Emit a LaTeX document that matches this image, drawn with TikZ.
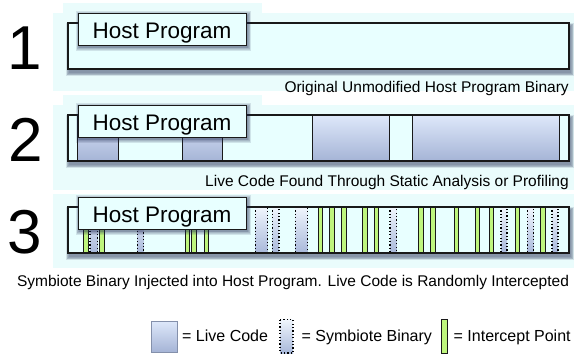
\documentclass[tikz,border=0pt]{standalone}
\usepackage{fontspec}
\setmainfont{Liberation Sans}
\definecolor{boxcyan}{RGB}{232,255,255}
\definecolor{panelcyan}{RGB}{234,252,252}
\definecolor{liveTop}{RGB}{222,232,250}
\definecolor{liveBot}{RGB}{165,180,214}
\definecolor{symTop}{RGB}{240,246,253}
\definecolor{symBot}{RGB}{168,184,218}
\definecolor{icptgreen}{RGB}{190,245,125}
\definecolor{shadowc}{RGB}{30,40,80}
\definecolor{inkc}{RGB}{25,25,25}

% soft drop shadow built from stacked translucent rectangles
\newcommand\dropshadow[5]{%
  \foreach \g in {0,...,4}{%
    \fill[shadowc,opacity=.12]
      ({#1+1-\g*.8},{#2+#5-\g*.8}) rectangle ({#3+2+\g*.8},{#4+#5+1+\g*.8});}}

\tikzset{
  frame/.style={draw=inkc, line width=1.1pt},
  tabbox/.style={draw=inkc, line width=1pt, fill=boxcyan, inner sep=0pt,
    minimum width=168pt, minimum height=32pt},
  tabtext/.style={font=\fontsize{22.5}{26}\selectfont, inner sep=0pt, anchor=base},
  livecode/.style={draw=inkc, line width=1pt, top color=liveTop, bottom color=liveBot},
  symbiote/.style={draw=black, line width=1.2pt, dash pattern=on 1.2pt off 2.2pt,
    top color=symTop, bottom color=symBot},
  icpt/.style={draw=inkc, line width=1pt, fill=icptgreen},
  digit/.style={font=\fontsize{62}{62}\selectfont, inner sep=0pt, anchor=base},
  caption/.style={font=\fontsize{15.5}{18}\selectfont, inner sep=0pt},
  legendtext/.style={font=\fontsize{16}{19}\selectfont, inner sep=0pt, anchor=base west},
}

\begin{document}
\begin{tikzpicture}[x=1pt,y=-1pt]
\useasboundingbox (0,0) rectangle (574,362);

% pale background panels behind the three rows
\fill[panelcyan] (63,3) rectangle (262,13);
\fill[panelcyan] (53,13) rectangle (574,91);
\fill[panelcyan] (63,95) rectangle (262,105);
\fill[panelcyan] (53,105) rectangle (574,190);
\fill[panelcyan] (53,194) rectangle (574,268);

% ---------- row 1: original host binary ----------
\dropshadow{68}{23}{569}{69}{3}
\fill[boxcyan] (68,23) rectangle (569,69);
\draw[frame] (68,23) rectangle (569,69);
\dropshadow{78}{13}{246}{45}{1.5}
\node[tabbox] (tab1) at (162,29) {};
\node[tabtext] (host1) at (162,38.5) {Host Program};
\node[digit] (n1) at (24.5,69) {1};
\node[caption, anchor=base east] (cap1) at (569,92) {Original Unmodified Host Program Binary};

% ---------- row 2: live code located ----------
\begin{scope}[shift={(0,92)}]
\dropshadow{68}{23}{569}{69}{3}
\fill[boxcyan] (68,23) rectangle (569,69);
\foreach \a/\b in {77/118, 182/222, 312/389, 412/559}
  \draw[livecode] (\a,23) rectangle (\b,69);
\draw[frame] (68,23) rectangle (569,69);
\dropshadow{78}{13}{246}{45}{1.5}
\node[tabbox] (tab2) at (162,29) {};
\node[tabtext] (host2) at (162,38.5) {Host Program};
\node[digit] (n2) at (25.5,69) {2};
\node[caption, anchor=base east] (cap2) at (569,94) {Live Code Found Through Static Analysis or Profiling};
\end{scope}

% ---------- row 3: symbiote injected, intercept points ----------
\begin{scope}[shift={(0,184)}]
\dropshadow{68}{23}{569}{69}{3}
\fill[boxcyan] (68,23) rectangle (569,69);
\foreach \a/\b in {90/97.5, 137.5/143.5, 255.5/267.5, 272.5/279, 295.5/307.5,
                   390/396.5, 501/507, 527.5/533.5, 552/558}
  \draw[symbiote] (\a,23) rectangle (\b,69);
\foreach \a in {83.5, 99.5, 185, 191.8, 204.3, 318.2, 329.8, 341.5, 362.7, 374.3,
                418.5, 430.7, 454.2, 475.2, 489.3, 515.2, 540.8}
  \draw[icpt] (\a,23) rectangle ({\a+4.6},69);
\draw[frame] (68,23) rectangle (569,69);
\dropshadow{78}{13}{246}{45}{1.5}
\node[tabbox] (tab3) at (162,29) {};
\node[tabtext] (host3) at (162,38.5) {Host Program};
\node[digit] (n3) at (24.5,69) {3};
\node[caption, anchor=base] (cap3) at (293,102) {Symbiote Binary Injected into Host Program. Live Code is Randomly Intercepted};
\end{scope}

% ---------- legend ----------
\draw[draw=liveBot!80!black, line width=.6pt, top color=liveTop, bottom color=liveBot]
  (151,321) rectangle (177,352);
\node[legendtext] (lgLive) at (182,341.5) {= Live Code};
\draw[symbiote] (280,319.5) rectangle (293,353);
\node[legendtext] (lgSym) at (301.5,341.5) {= Symbiote Binary};
\draw[icpt] (441,319.5) rectangle (447,353);
\node[legendtext] (lgIcpt) at (453.5,341.5) {= Intercept Point};
\end{tikzpicture}
\end{document}
